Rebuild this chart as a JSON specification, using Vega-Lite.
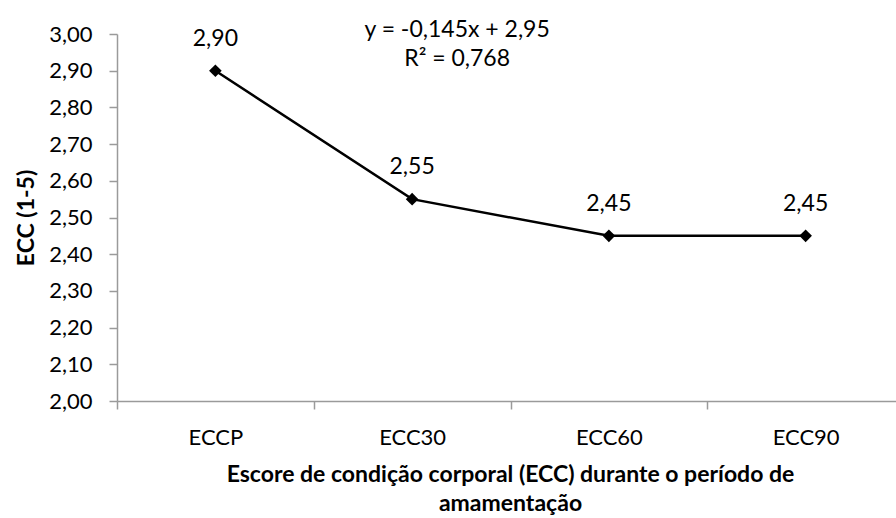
{
  "$schema": "https://vega.github.io/schema/vega-lite/v6.json",
  "autosize": {"type": "none"},
  "padding": {"left": 117, "top": 34, "right": 1, "bottom": 117},
  "width": 778,
  "height": 367,
  "background": "white",
  "config": {
    "view": {"stroke": null},
    "font": "Lato",
    "axis": {"labelFont": "Lato", "titleFont": "Lato", "labelColor": "#000000", "titleColor": "#000000"}
  },
  "datasets": {
    "ecc": [
      {"periodo": "ECCP", "ecc": 2.90, "rotulo": "2,90"},
      {"periodo": "ECC30", "ecc": 2.55, "rotulo": "2,55"},
      {"periodo": "ECC60", "ecc": 2.45, "rotulo": "2,45"},
      {"periodo": "ECC90", "ecc": 2.45, "rotulo": "2,45"}
    ],
    "eq": [
      {"periodo": "ECC30", "ecc": 3.01, "rotulo": "y = -0,145x + 2,95"},
      {"periodo": "ECC30", "ecc": 2.932, "rotulo": "R² = 0,768"}
    ]
  },
  "encoding": {
    "x": {
      "field": "periodo", "type": "nominal", "sort": ["ECCP", "ECC30", "ECC60", "ECC90"],
      "scale": {"range": [0, 787], "paddingInner": 0, "paddingOuter": 0},
      "axis": {
        "title": ["Escore de condição corporal (ECC) durante o período de", "amamentação"],
        "titleFontSize": 23, "titleFontWeight": "bold", "titlePadding": 15, "titleLineHeight": 29,
        "titleX": 393, "titleAnchor": "middle",
        "labelFontSize": 22, "labelAngle": 0, "labelPadding": 18,
        "tickBand": "extent", "tickSize": 8, "tickColor": "#9a9a9a", "tickWidth": 1.5,
        "domainColor": "#9a9a9a", "domainWidth": 1.5, "grid": false
      }
    },
    "y": {
      "field": "ecc", "type": "quantitative",
      "scale": {"domain": [2, 3], "nice": false, "zero": false},
      "axis": {
        "title": "ECC (1-5)", "titleFontSize": 23, "titleFontWeight": "bold", "titlePadding": 10,
        "tickCount": 30,
        "values": [2, 2.1, 2.2, 2.3, 2.4, 2.5, 2.6, 2.7, 2.8, 2.9, 3],
        "labelExpr": "replace(format(datum.value, '.2f'), '.', ',')",
        "labelFontSize": 22, "labelPadding": 17, "labelOverlap": false, "labelFlush": false,
        "tickSize": 8, "tickColor": "#9a9a9a", "tickWidth": 1.5,
        "domainColor": "#9a9a9a", "domainWidth": 1.5, "grid": false
      }
    }
  },
  "layer": [
    {
      "data": {"name": "ecc"},
      "mark": {"type": "line", "color": "#000000", "strokeWidth": 2.5}
    },
    {
      "data": {"name": "ecc"},
      "mark": {"type": "point", "shape": "diamond", "filled": true, "color": "#000000", "size": 160, "opacity": 1}
    },
    {
      "data": {"name": "ecc"},
      "mark": {"type": "text", "fontSize": 23, "color": "#000000", "baseline": "middle", "dy": -32},
      "encoding": {"text": {"field": "rotulo"}}
    },
    {
      "data": {"name": "eq"},
      "mark": {"type": "text", "fontSize": 23, "color": "#000000", "baseline": "middle", "dx": 45},
      "encoding": {"text": {"field": "rotulo"}}
    }
  ]
}
